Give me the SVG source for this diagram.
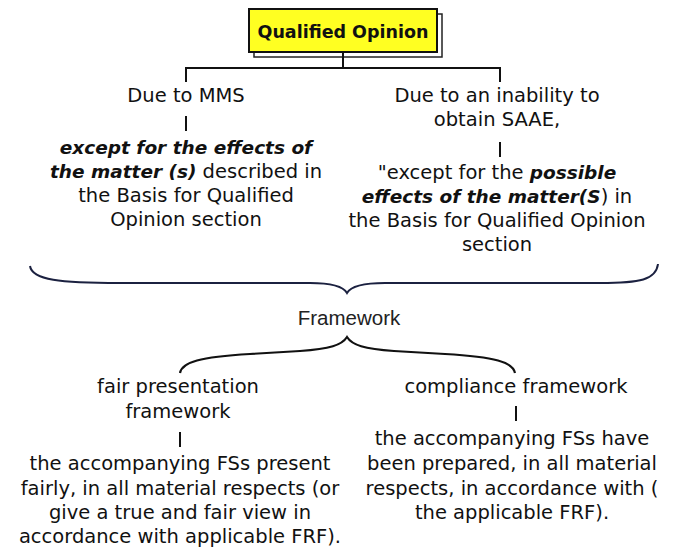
<svg xmlns="http://www.w3.org/2000/svg" width="678" height="560" viewBox="0 0 678 560">
<style>
.t{font-family:"DejaVu Sans","Noto Sans",sans-serif;font-size:19.5px;fill:#111;text-anchor:middle}
.bi{font-weight:bold;font-style:italic;font-size:18.5px}
.ln{stroke:#111;stroke-width:2;fill:none}
</style>
<rect width="678" height="560" fill="#fff"/>
<g id="title">
<rect x="254" y="14" width="188" height="43" fill="#fff" stroke="#222" stroke-width="1.5"/>
<rect x="249" y="9" width="188" height="43" fill="#ffff22" stroke="#111" stroke-width="2"/>
<text x="343" y="38" class="t" style="font-size:17.5px;font-weight:bold">Qualified Opinion</text>
</g>
<g id="connectors">
<path class="ln" d="M343 52V68M185 68H501M186 68V82M500 68V82"/>
<path class="ln" d="M186 116V131M500 142V157M180 432V447M516 406V421"/>
<path d="M30 266C32 280 60 283 120 283H310C330 283 343 286 347 293C351 286 364 283 385 283H600C640 283 656 280 658 264" fill="none" stroke="#1b2140" stroke-width="2"/>
<path d="M180 373C182 362 200 357 250 354L300 351C330 349 342 345 347 337C352 345 364 349 394 351L445 354C495 357 513 362 515 373" fill="none" stroke="#111" stroke-width="2.2"/>
</g>
<g id="mms">
<text x="186" y="102" class="t">Due to MMS</text>
<text x="186" y="154" class="t"><tspan class="bi">except for the effects of</tspan></text>
<text x="186" y="178" class="t"><tspan class="bi">the matter (s)</tspan> described in</text>
<text x="186" y="202" class="t">the Basis for Qualified</text>
<text x="186" y="226" class="t">Opinion section</text>
</g>
<g id="saae">
<text x="497" y="102" class="t">Due to an inability to</text>
<text x="497" y="126" class="t">obtain SAAE,</text>
<text x="497" y="179" class="t">"except for the <tspan class="bi">possible</tspan></text>
<text x="497" y="203" class="t"><tspan class="bi">effects of the matter(S</tspan>) in</text>
<text x="497" y="227" class="t">the Basis for Qualified Opinion</text>
<text x="497" y="251" class="t">section</text>
</g>
<g id="framework">
<text x="349" y="325" class="t" style="font-family:'Liberation Sans',sans-serif;font-size:20.5px;fill:#222">Framework</text>
</g>
<g id="fair">
<text x="178" y="393" class="t">fair presentation</text>
<text x="178" y="418" class="t">framework</text>
<text x="180" y="470" class="t">the accompanying FSs present</text>
<text x="180" y="495" class="t">fairly, in all material respects (or</text>
<text x="180" y="519" class="t">give a true and fair view in</text>
<text x="180" y="543" class="t">accordance with applicable FRF).</text>
</g>
<g id="compliance">
<text x="516" y="393" class="t">compliance framework</text>
<text x="512" y="445" class="t">the accompanying FSs have</text>
<text x="512" y="470" class="t">been prepared, in all material</text>
<text x="512" y="495" class="t">respects, in accordance with (</text>
<text x="512" y="519" class="t">the applicable FRF).</text>
</g>
</svg>
